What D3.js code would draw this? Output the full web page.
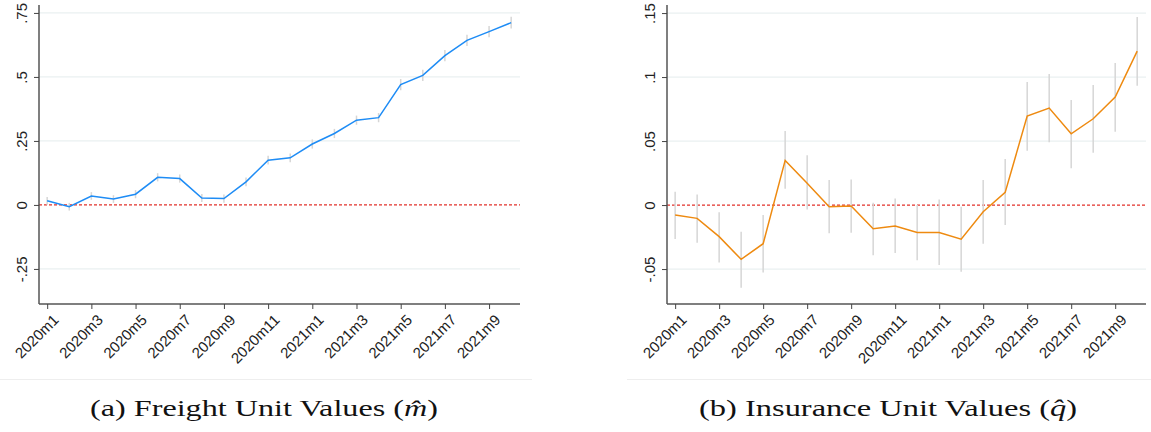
<!DOCTYPE html>
<html>
<head>
<meta charset="utf-8">
<script src="https://d3js.org/d3.v7.min.js"></script>
<style>
body { margin: 0; background: #fff; }
svg { display: block; }
.tick text { font-family: "Liberation Sans", Arial, sans-serif; font-size: 15px; fill: #222; }
.caption { font-family: "Liberation Serif", serif; font-size: 24px; fill: #111; }
</style>
</head>
<body>
<script>
// months 2020m1 .. 2021m10
var months = ["2020m1","2020m2","2020m3","2020m4","2020m5","2020m6","2020m7","2020m8","2020m9","2020m10","2020m11","2020m12",
              "2021m1","2021m2","2021m3","2021m4","2021m5","2021m6","2021m7","2021m8","2021m9","2021m10"];

// (a) freight unit values
var freight   = [0.016,-0.007,0.035,0.023,0.042,0.108,0.103,0.027,0.025,0.090,0.175,0.184,
                 0.238,0.279,0.331,0.341,0.470,0.506,0.583,0.643,0.677,0.712];
var freightLo = [0.001,-0.022,0.020,0.008,0.026,0.092,0.087,0.011,0.009,0.073,0.158,0.167,
                 0.220,0.261,0.313,0.323,0.448,0.484,0.561,0.621,0.655,0.689];
var freightHi = [0.031,0.008,0.050,0.038,0.058,0.124,0.119,0.043,0.041,0.107,0.192,0.201,
                 0.256,0.297,0.349,0.359,0.492,0.528,0.605,0.665,0.699,0.735];

// (b) insurance unit values
var insurance   = [-0.0078,-0.0104,-0.0247,-0.0424,-0.0302,0.0349,0.0170,-0.0013,-0.0008,-0.0185,-0.0164,-0.0214,
                   -0.0214,-0.0266,-0.0052,0.0099,0.0695,0.0758,0.0557,0.0674,0.0844,0.1203];
var insuranceLo = [-0.0266,-0.0294,-0.0448,-0.0646,-0.0526,0.0127,-0.0034,-0.0221,-0.0216,-0.0393,-0.0375,-0.0432,
                   -0.0469,-0.0521,-0.0302,-0.0156,0.0424,0.0490,0.0287,0.0409,0.0573,0.0932];
var insuranceHi = [0.0104,0.0083,-0.0057,-0.0208,-0.0078,0.0578,0.0390,0.0195,0.0200,0.0018,0.0052,0.0000,
                   0.0044,-0.0013,0.0195,0.0359,0.0961,0.1023,0.0820,0.0938,0.1110,0.1470];

var freightTicks = [-0.25, 0, 0.25, 0.5, 0.75];
var insuranceTicks = [-0.05, 0, 0.05, 0.1, 0.15];
var tickMonths = ["2020m1","2020m3","2020m5","2020m7","2020m9","2020m11","2021m1","2021m3","2021m5","2021m7","2021m9"];

var width = 1151, height = 432;
var svg = d3.select("body").append("svg").attr("width", width).attr("height", height);

function fmt(v) {
  // Stata-style: drop the leading zero
  if (v === 0) return "0";
  var s = String(+v.toFixed(3));
  return s.replace(/^(-?)0\./, "$1.");
}

function panel(opts) {
  var x = d3.scaleLinear().domain([-0.37, 21.4]).range([opts.left, opts.right]);
  var y = d3.scaleLinear().domain(opts.domain).range([304, 5]);
  var g = svg.append("g");

  // grid
  g.selectAll("line.grid").data(opts.ticks.filter(function(d) { return d !== 0; }))
    .enter().append("line")
    .attr("x1", opts.left).attr("x2", opts.right)
    .attr("y1", function(d) { return y(d); }).attr("y2", function(d) { return y(d); })
    .attr("stroke", "#eaf0f1").attr("stroke-width", 1.2);

  // zero reference
  g.append("line")
    .attr("x1", opts.left).attr("x2", opts.right)
    .attr("y1", y(0)).attr("y2", y(0))
    .attr("stroke", "#e2302a").attr("stroke-width", 1.3)
    .attr("stroke-dasharray", "3,2");

  // CI bars
  g.selectAll("line.ci").data(months).enter().append("line")
    .attr("x1", function(d, i) { return x(i); }).attr("x2", function(d, i) { return x(i); })
    .attr("y1", function(d, i) { return y(opts.lo[i]); })
    .attr("y2", function(d, i) { return y(opts.hi[i]); })
    .attr("stroke", "#d6d6d6").attr("stroke-width", 1.5);

  // estimate line
  var line = d3.line().x(function(d, i) { return x(i); }).y(function(d) { return y(d); });
  g.append("path").datum(opts.values)
    .attr("d", line).attr("fill", "none")
    .attr("stroke", opts.color).attr("stroke-width", 1.5);

  // y axis
  var ya = g.append("g").attr("transform", "translate(" + opts.left + ",0)")
    .call(d3.axisLeft(y).tickValues(opts.ticks).tickFormat(fmt).tickSize(5).tickPadding(7));
  ya.select(".domain").attr("d", "M0,5V304").attr("stroke", "#555").attr("stroke-width", 1.5);
  ya.selectAll(".tick line").attr("stroke", "#444");
  ya.selectAll(".tick text")
    .attr("transform", "rotate(-90)")
    .attr("x", 0).attr("y", -12).attr("dy", 0)
    .attr("text-anchor", "middle");

  // x axis
  var xa = g.append("g").attr("transform", "translate(0,304)")
    .call(d3.axisBottom(x).tickValues(tickMonths.map(function(m) { return months.indexOf(m); }))
      .tickFormat(function(i) { return months[i]; }).tickSize(5));
  xa.select(".domain").attr("d", "M" + opts.left + ",0H" + opts.right).attr("stroke", "#555").attr("stroke-width", 1.5);
  xa.selectAll(".tick line").attr("stroke", "#444");
  xa.selectAll(".tick text")
    .attr("text-anchor", "end")
    .attr("transform", "translate(4,9) rotate(-45)")
    .attr("x", 0).attr("y", 0).attr("dy", "0.75em");

  // faint frame line under the graph
  g.append("line")
    .attr("x1", opts.frameL).attr("x2", opts.frameR).attr("y1", 379.5).attr("y2", 379.5)
    .attr("stroke", "#eeeeee").attr("stroke-width", 1);

  // caption
  var cap = g.append("text").attr("class", "caption")
    .attr("x", opts.capX).attr("y", 416)
    .attr("text-anchor", "middle")
    .attr("textLength", opts.capW).attr("lengthAdjust", "spacingAndGlyphs");
  cap.append("tspan").text(opts.caption + " (");
  cap.append("tspan").attr("font-style", "italic").text(opts.sym + "\u0302");
  cap.append("tspan").text(")");
}

panel({ left: 39, right: 520, domain: [-0.387, 0.781], ticks: freightTicks,
  values: freight, lo: freightLo, hi: freightHi, color: "#1e8cf5",
  frameL: 0, frameR: 532, capX: 264, capW: 348, caption: "(a) Freight Unit Values", sym: "m" });

panel({ left: 667, right: 1146, domain: [-0.0773, 0.1563], ticks: insuranceTicks,
  values: insurance, lo: insuranceLo, hi: insuranceHi, color: "#ee8a10",
  frameL: 627, frameR: 1151, capX: 888, capW: 378, caption: "(b) Insurance Unit Values", sym: "q" });
</script>
</body>
</html>
